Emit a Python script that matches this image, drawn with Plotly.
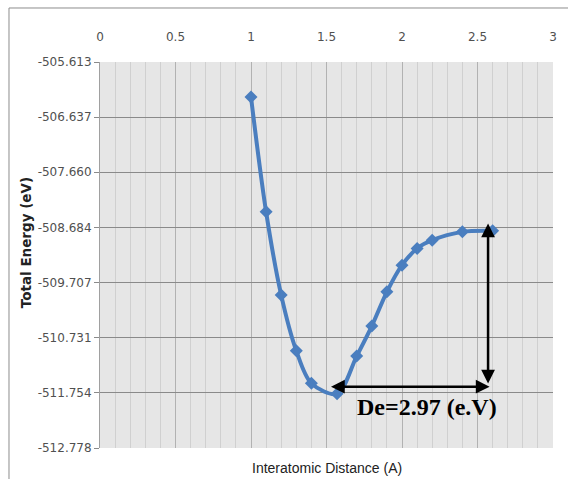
import plotly.graph_objects as go

# ---- data ----
distance = [1.0, 1.1, 1.2, 1.3, 1.4, 1.57, 1.7, 1.8, 1.9, 2.0, 2.1, 2.2, 2.4, 2.6]
energy = [-506.262, -508.395, -509.940, -510.973, -511.578, -511.770, -511.072,
          -510.515, -509.879, -509.384, -509.074, -508.920, -508.766, -508.747]

y_tick_vals = [-505.613, -506.637, -507.660, -508.684, -509.707, -510.731, -511.754, -512.778]
y_tick_text = ["-505.613", "-506.637", "-507.660", "-508.684", "-509.707", "-510.731", "-511.754", "-512.778"]
x_tick_vals = [0, 0.5, 1, 1.5, 2, 2.5, 3]
x_tick_text = ["0", "0.5", "1", "1.5", "2", "2.5", "3"]

de_label = "De=2.97 (e.V)"
# annotation arrow positions (data coordinates)
arrow_v_x = 2.57
arrow_v_top = -508.61
arrow_v_bottom = -511.61
arrow_h_y = -511.64
arrow_h_left = 1.52
arrow_h_right = 2.58
label_x = 2.166
label_y = -512.02

BLUE = "#4A7EBF"
TICKFONT = dict(family="DejaVu Sans, sans-serif", size=12, color="#505050")

fig = go.Figure()
fig.add_trace(go.Scatter(
    x=distance, y=energy, mode="lines+markers",
    line=dict(color=BLUE, width=4, shape="spline", smoothing=0.9),
    marker=dict(symbol="diamond", size=10, color=BLUE),
    showlegend=False, hoverinfo="skip",
))

fig.update_xaxes(
    range=[0, 3], side="top", tickvals=x_tick_vals, ticktext=x_tick_text,
    showgrid=True, gridcolor="#B2B2B2", gridwidth=1,
    minor=dict(dtick=0.1, tick0=0, showgrid=True, gridcolor="#D0D0D0", gridwidth=1),
    ticks="", ticklabelstandoff=18, tickfont=TICKFONT,
    zeroline=False, showline=False,
)
fig.update_yaxes(
    range=[-512.778, -505.613], tickvals=y_tick_vals, ticktext=y_tick_text,
    showgrid=True, gridcolor="#8A8A8A", gridwidth=1,
    ticks="outside", ticklen=5, tickcolor="#8A8A8A", tickfont=TICKFONT,
    zeroline=False, showline=True, linecolor="#A0A0A0", linewidth=1,
)

annotations = [
    # vertical double arrow
    dict(x=arrow_v_x, y=arrow_v_top, ax=arrow_v_x, ay=arrow_v_bottom,
         xref="x", yref="y", axref="x", ayref="y", text="", showarrow=True,
         arrowhead=2, startarrowhead=2, arrowside="end+start",
         arrowsize=1.1, startarrowsize=1.1, arrowwidth=2.5, arrowcolor="black",
         standoff=0, startstandoff=0),
    # horizontal double arrow
    dict(x=arrow_h_right, y=arrow_h_y, ax=arrow_h_left, ay=arrow_h_y,
         xref="x", yref="y", axref="x", ayref="y", text="", showarrow=True,
         arrowhead=2, startarrowhead=2, arrowside="end+start",
         arrowsize=1.1, startarrowsize=1.1, arrowwidth=2.5, arrowcolor="black",
         standoff=0, startstandoff=0),
    dict(x=label_x, y=label_y, xref="x", yref="y", text="<b>" + de_label + "</b>",
         showarrow=False, xanchor="center", yanchor="middle",
         font=dict(family="Liberation Serif, Times New Roman, serif", size=24, color="black")),
    dict(x=0.5, y=-0.025, xref="paper", yref="paper", text="Interatomic Distance (A)",
         showarrow=False, xanchor="center", yanchor="top",
         font=dict(family="Liberation Sans, Arial, sans-serif", size=14, color="#222222")),
    dict(x=-0.163, y=0.531, xref="paper", yref="paper", text="<b>Total Energy (eV)</b>",
         showarrow=False, xanchor="center", yanchor="middle", textangle=-90,
         font=dict(family="DejaVu Sans, sans-serif", size=13.5, color="#222222")),
]

shapes = [
    dict(type="line", xref="paper", yref="paper", x0=-0.2009, x1=-0.2009, y0=-0.2, y1=1.1399,
         line=dict(color="#8C8C8C", width=1)),
    dict(type="line", xref="paper", yref="paper", x0=-0.2009, x1=1.1, y0=1.1399, y1=1.1399,
         line=dict(color="#8C8C8C", width=1)),
]

fig.update_layout(
    width=568, height=479,
    margin=dict(l=100, r=15, t=62, b=31),
    plot_bgcolor="#E6E6E6", paper_bgcolor="white",
    annotations=annotations, shapes=shapes,
)

fig.write_html("out.html", config={"displayModeBar": False},
               post_script="document.body.style.margin='0';document.body.style.overflow='hidden';")
